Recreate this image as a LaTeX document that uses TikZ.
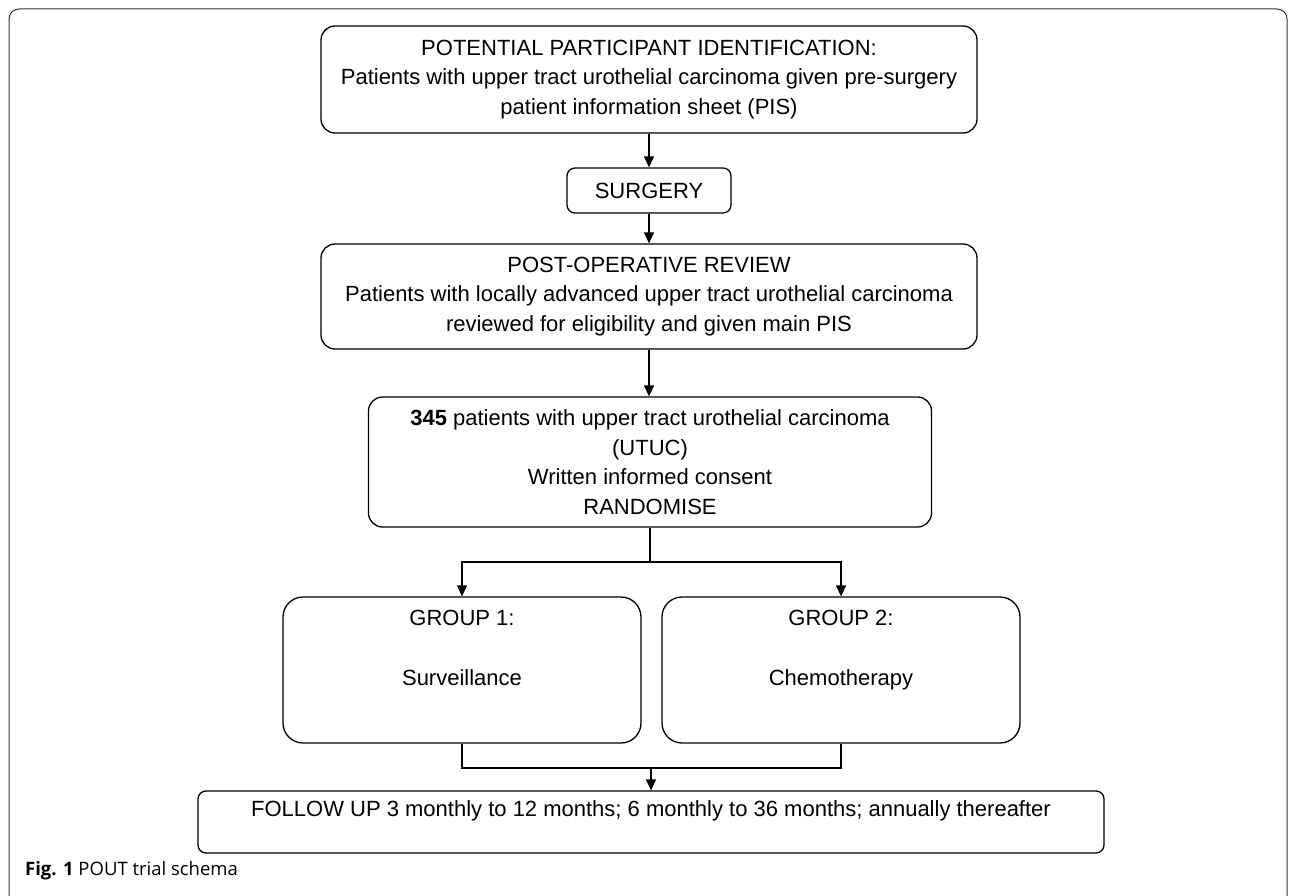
\documentclass[tikz,border=0pt]{standalone}
\usepackage{fontspec}
\setmainfont{Liberation Sans}
\newfontfamily\capfont{Open Sans}
\usetikzlibrary{arrows.meta}
\begin{document}
\begin{tikzpicture}[x=1pt,y=-1pt,
  box/.style={draw=black, line width=1.3pt, rounded corners=#1, align=center, inner sep=0pt,
              font=\fontsize{22}{29.5}\selectfont},
  box/.default=12pt,
  conn/.style={draw=black, line width=1.3pt},
  arr/.style={conn, -{Triangle[length=11pt,width=10pt]}},
  frame/.style={draw=black!80, line width=1pt, rounded corners=10pt},
  captext/.style={anchor=west, inner sep=0pt, font=\capfont\fontsize{18.5}{22}\selectfont}]
\useasboundingbox (0,0) rectangle (1292,896);
\draw[frame] (9,900) -- (9,9) -- (1287,9) -- (1287,900);

\node[box=14pt, minimum width=656pt, minimum height=107pt] (pid) at (649,79.5)
  {POTENTIAL PARTICIPANT IDENTIFICATION:\\Patients with upper tract urothelial carcinoma given pre-surgery\\patient information sheet (PIS)};
\node[box=8pt, minimum width=164pt, minimum height=45pt] (surg) at (649,190.5) {SURGERY};
\node[box=14pt, minimum width=656pt, minimum height=105pt] (post) at (649,296.5)
  {POST-OPERATIVE REVIEW\\Patients with locally advanced upper tract urothelial carcinoma\\reviewed for eligibility and given main PIS};
\node[box=14pt, minimum width=563pt, minimum height=130pt] (rand) at (650,462)
  {\textbf{345} patients with upper tract urothelial carcinoma\\(UTUC)\\Written informed consent\\RANDOMISE};
\node[box=20pt, minimum width=358pt, minimum height=146pt] (g1) at (462,670)
  {GROUP 1:\\[30.5pt]Surveillance\\[6pt]\strut};
\node[box=20pt, minimum width=358pt, minimum height=146pt] (g2) at (841,670)
  {GROUP 2:\\[30.5pt]Chemotherapy\\[6pt]\strut};
\node[box=8pt, minimum width=906pt, minimum height=62pt] (fu) at (651,822)
  {FOLLOW UP 3 monthly to 12 months; 6 monthly to 36 months; annually thereafter\\[-12pt]\strut};
\node[captext] (cap) at (25,871) {\textbf{Fig. 1} POUT trial schema};

\coordinate (br) at (650,562);
\coordinate (mg) at (651,768);
\draw[arr] (pid.south) -- (surg.north);
\draw[arr] (surg.south) -- (post.north);
\draw[arr] (post.south) -- (post.south |- rand.north);
\draw[conn] (rand.south) -- (rand.south |- br);
\draw[arr] (rand.south |- br) -| (g1.north);
\draw[arr] (rand.south |- br) -| (g2.north);
\draw[conn] (g1.south) -- (g1.south |- mg) -| (g2.south);
\draw[arr] (fu.north |- mg) -- (fu.north);
\end{tikzpicture}
\end{document}
